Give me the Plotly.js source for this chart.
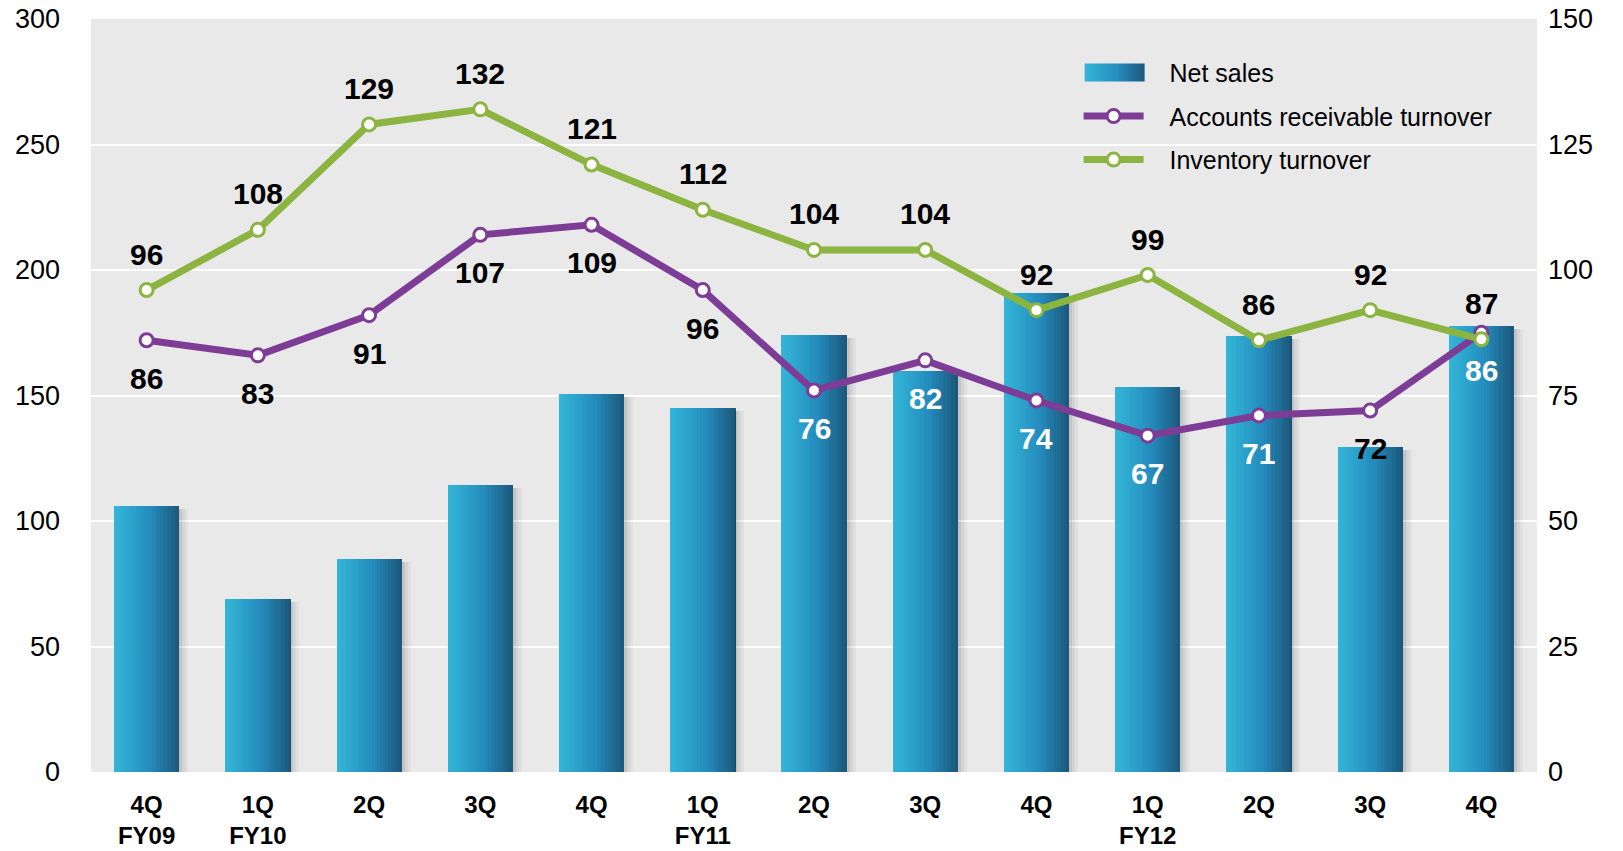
<!DOCTYPE html>
<html>
<head>
<meta charset="utf-8">
<script src="https://cdn.plot.ly/plotly-3.0.1.min.js"></script>
<style>html,body{margin:0;padding:0;background:#fff;}#chart{width:1623px;height:851px;}</style>
</head>
<body>
<div id="chart"></div>
<script>
// ---- data ----
var quarters = ["4Q", "1Q", "2Q", "3Q", "4Q", "1Q", "2Q", "3Q", "4Q", "1Q", "2Q", "3Q", "4Q"];
var fiscalYears = ["FY09", "FY10", "", "", "", "FY11", "", "", "", "FY12", "", "", ""];
var netSales = [106, 69, 85, 114.3, 150.5, 145, 174, 159.8, 190.7, 153.4, 173.7, 129.5, 177.7];
var arTurnover = [86, 83, 91, 107, 109, 96, 76, 82, 74, 67, 71, 72, 87.5];
var arLabels = ["86", "83", "91", "107", "109", "96", "76", "82", "74", "67", "71", "72", "86"];
var invTurnover = [96, 108, 129, 132, 121, 112, 104, 104, 92, 99, 86, 92, 86.2];
var invLabels = ["96", "108", "129", "132", "121", "112", "104", "104", "92", "99", "86", "92", "87"];
var seriesNames = ["Net sales", "Accounts receivable turnover", "Inventory turnover"];

// ---- styling ----
var FONT = "Liberation Sans, Arial, sans-serif";
var GREEN = "rgb(140,180,64)";
var PURPLE = "rgb(125,60,150)";
var gradStops = [[0, [52, 182, 216]], [0.55, [36, 140, 190]], [1, [28, 88, 122]]];
function gradColor(t) {
  for (var i = 0; i < gradStops.length - 1; i++) {
    var a = gradStops[i], b = gradStops[i + 1];
    if (t <= b[0]) {
      var f = (t - a[0]) / (b[0] - a[0]);
      var c = a[1].map(function (v, j) { return Math.round(v + (b[1][j] - v) * f); });
      return "rgb(" + c.join(",") + ")";
    }
  }
  return "rgb(" + gradStops[gradStops.length - 1][1].join(",") + ")";
}
var PAD = "\u00a0\u00a0\u00a0";

var xIdx = quarters.map(function (_, i) { return i; });
var tickText = quarters.map(function (q, i) { return fiscalYears[i] ? q + "<br>" + fiscalYears[i] : q; });

var traces = [];
var BW = 0.585;        // bar width in category units
var N = 24;            // gradient strips
var pxU = 1 / 111.2;   // one pixel in category units

for (var k = 0; k < N; k++) {
  traces.push({
    type: "bar", x: xIdx, y: netSales, name: PAD + seriesNames[0],
    width: BW / N + 0.002, offset: -BW / 2 + k * BW / N,
    marker: { color: gradColor((k + 0.5) / N), line: { width: 0 } },
    showlegend: k === 0, legendgroup: "sales",
    hoverinfo: k === 0 ? "y" : "skip", yaxis: "y"
  });
}
// drop shadow on right side
var shadows = [[0.16, 0, 3], [0.09, 3, 6], [0.04, 6, 9]];
shadows.forEach(function (s) {
  traces.push({
    type: "bar", x: xIdx, y: netSales.map(function (v) { return v - 1.2; }),
    width: (s[2] - s[1]) * pxU, offset: BW / 2 + s[1] * pxU,
    marker: { color: "rgba(0,0,0," + s[0] + ")", line: { width: 0 } },
    showlegend: false, legendgroup: "sales", hoverinfo: "skip", yaxis: "y"
  });
});

traces.push({
  type: "scatter", mode: "lines+markers", x: xIdx, y: arTurnover, name: PAD + seriesNames[1],
  yaxis: "y2", line: { color: PURPLE, width: 7 }, legendgroup: "ar",
  marker: { size: 13, color: "#fff", line: { color: PURPLE, width: 3 } }
});
traces.push({
  type: "scatter", mode: "lines+markers", x: xIdx, y: invTurnover, name: PAD + seriesNames[2],
  yaxis: "y2", line: { color: GREEN, width: 7 }, legendgroup: "inv",
  marker: { size: 13, color: "#fff", line: { color: GREEN, width: 3 } }
});

var annotations = [];
invTurnover.forEach(function (v, i) {
  annotations.push({
    x: i, y: v, xref: "x", yref: "y2", text: invLabels[i], showarrow: false,
    yshift: 36, font: { family: FONT, size: 30, weight: "bold", color: "#000" }
  });
});
arTurnover.forEach(function (v, i) {
  var onBar = (v - 7.6 + 2) < netSales[i] / 2;
  annotations.push({
    x: i, y: v, xref: "x", yref: "y2", text: arLabels[i], showarrow: false,
    yshift: -38, font: { family: FONT, size: 30, weight: "bold", color: onBar ? "#fff" : "#000" }
  });
});

var layout = {
  width: 1623, height: 851,
  margin: { l: 91, r: 86, t: 19, b: 79, pad: 0 },
  paper_bgcolor: "#fff", plot_bgcolor: "rgb(233,233,233)",
  font: { family: FONT, color: "#000" },
  barmode: "overlay", bargap: 0,
  xaxis: {
    range: [-0.5, 12.5], tickmode: "array", tickvals: xIdx, ticktext: tickText,
    showgrid: false, zeroline: false, showline: false, ticks: "",
    tickfont: { family: FONT, size: 24, weight: "bold", color: "#000" },
    ticklabelstandoff: 16, fixedrange: true
  },
  yaxis: {
    range: [0, 300], dtick: 50, tick0: 0, showgrid: true, gridcolor: "#fff", gridwidth: 2,
    zeroline: false, showline: false, ticks: "",
    tickfont: { family: FONT, size: 27, color: "#000" }, ticklabelstandoff: 30
  },
  yaxis2: {
    range: [0, 150], dtick: 25, tick0: 0, overlaying: "y", side: "right",
    showgrid: false, zeroline: false, showline: false, ticks: "",
    tickfont: { family: FONT, size: 27, color: "#000" }, ticklabelstandoff: 10
  },
  legend: {
    x: 0.683, y: 0.959, xanchor: "left", yanchor: "top",
    bgcolor: "rgba(0,0,0,0)", font: { family: FONT, size: 25, color: "#000" },
    itemwidth: 60, traceorder: "grouped", tracegroupgap: 8
  },
  annotations: annotations,
  showlegend: true
};

Plotly.newPlot("chart", traces, layout, { displayModeBar: false, staticPlot: true }).then(function (gd) {
  // widen the Net sales legend swatch into a gradient bar like the original
  var svg = gd.querySelector(".main-svg");
  var ns = "http://www.w3.org/2000/svg";
  var defs = svg.querySelector("defs") || svg.insertBefore(document.createElementNS(ns, "defs"), svg.firstChild);
  var lg = document.createElementNS(ns, "linearGradient");
  lg.setAttribute("id", "salesGrad");
  lg.setAttribute("x1", "0"); lg.setAttribute("x2", "1"); lg.setAttribute("y1", "0"); lg.setAttribute("y2", "0");
  gradStops.forEach(function (s) {
    var st = document.createElementNS(ns, "stop");
    st.setAttribute("offset", s[0]);
    st.setAttribute("stop-color", "rgb(" + s[1].join(",") + ")");
    lg.appendChild(st);
  });
  defs.appendChild(lg);
  var first = gd.querySelector(".legend .traces");
  if (first) {
    first.querySelectorAll(".legendpoints path").forEach(function (p) {
      p.setAttribute("d", "M-29,-9H31V9H-29Z");
      p.style.fill = "url(#salesGrad)";
      p.style.stroke = "none";
    });
  }
});
</script>
</body>
</html>
